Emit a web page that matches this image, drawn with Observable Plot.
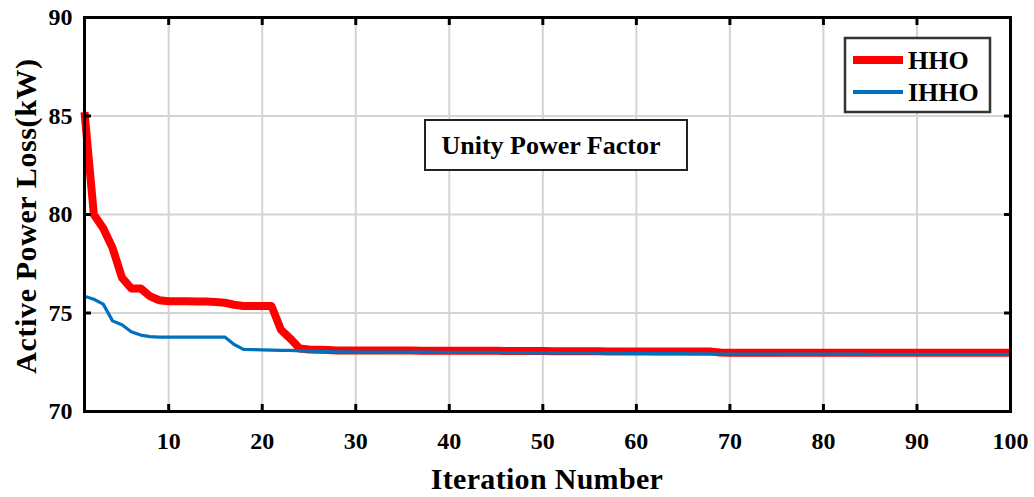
<!DOCTYPE html>
<html><head><meta charset="utf-8">
<script src="https://cdn.jsdelivr.net/npm/d3@7"></script>
<script src="https://cdn.jsdelivr.net/npm/@observablehq/plot@0.6"></script>
<style>body{margin:0;background:#fff;overflow:hidden} #chart svg{display:block}</style>
</head><body><div id="chart"></div>
<script>
// Iteration numbers (1..100)
const iterations = d3.range(1, 101);

// HHO active power loss (kW)
const hho = [
  85.2, 80.0, 79.3, 78.3, 76.8, 76.25, 76.25, 75.85, 75.65, 75.6,
  75.6, 75.6, 75.58, 75.58, 75.56, 75.52, 75.42, 75.36, 75.35, 75.35,
  75.35, 74.15, 73.7, 73.2, 73.15, 73.14, 73.12, 73.1, 73.1, 73.1,
  73.1, 73.1, 73.1, 73.1, 73.1, 73.1, 73.09, 73.09, 73.09, 73.09,
  73.09, 73.09, 73.08, 73.08, 73.08, 73.07, 73.07, 73.07, 73.07, 73.07,
  73.06, 73.06, 73.06, 73.06, 73.06, 73.06, 73.05, 73.05, 73.05, 73.05,
  73.05, 73.05, 73.05, 73.05, 73.05, 73.05, 73.05, 73.04, 72.99, 72.98,
  72.98, 72.98, 72.98, 72.98, 72.98, 72.98, 72.98, 72.98, 72.98, 72.98,
  72.98, 72.98, 72.98, 72.98, 72.98, 72.98, 72.98, 72.98, 72.98, 72.98,
  72.98, 72.98, 72.98, 72.98, 72.98, 72.98, 72.98, 72.98, 72.98, 72.98
];

// IHHO active power loss (kW)
const ihho = [
  75.85, 75.7, 75.45, 74.6, 74.4, 74.05, 73.88, 73.8, 73.78, 73.78,
  73.78, 73.78, 73.78, 73.78, 73.78, 73.78, 73.4, 73.15, 73.14, 73.13,
  73.12, 73.1, 73.1, 73.08, 73.06, 73.05, 73.04, 73.03, 73.03, 73.02,
  73.02, 73.02, 73.01, 73.01, 73.01, 73.01, 73.01, 73.01, 73.0, 73.0,
  73.0, 73.0, 73.0, 73.0, 73.0, 72.99, 72.99, 72.99, 72.98, 72.98,
  72.98, 72.97, 72.97, 72.97, 72.97, 72.96, 72.96, 72.96, 72.95, 72.95,
  72.95, 72.94, 72.94, 72.94, 72.94, 72.93, 72.93, 72.93, 72.92, 72.92,
  72.92, 72.92, 72.92, 72.92, 72.92, 72.91, 72.91, 72.91, 72.91, 72.91,
  72.91, 72.91, 72.91, 72.91, 72.9, 72.9, 72.9, 72.9, 72.9, 72.9,
  72.9, 72.9, 72.9, 72.9, 72.9, 72.9, 72.9, 72.9, 72.9, 72.9
];

const seriesNames = ["HHO", "IHHO"];
const seriesColors = ["#ff0000", "#0072bd"];
const seriesWidths = [8, 3.2];
const xTicks = [10, 20, 30, 40, 50, 60, 70, 80, 90, 100];
const yTicks = [70, 75, 80, 85, 90];
const xLabel = "Iteration Number";
const yLabel = "Active Power Loss(kW)";
const annotation = "Unity Power Factor";

const rows = [];
iterations.forEach((it, i) => {
  rows.push({it, v: hho[i], s: "HHO"});
  rows.push({it, v: ihho[i], s: "IHHO"});
});

const font = "'Liberation Serif', 'Times New Roman', Times, serif";
const gridStyle = {stroke: "#d4d4d4", strokeOpacity: 1, strokeWidth: 2};

const plot = Plot.plot({
  width: 1034, height: 497,
  marginLeft: 84, marginRight: 24, marginTop: 17, marginBottom: 86,
  style: {fontFamily: font, fontSize: "24px", fontWeight: "bold", background: "#fff", color: "#000"},
  x: {domain: [1, 100], label: null},
  y: {domain: [70, 90], label: null},
  marks: [
    Plot.gridX(xTicks.filter(d => d < 100), gridStyle),
    Plot.gridY(yTicks.filter(d => d > 70 && d < 90), gridStyle),
    Plot.line(rows.filter(d => d.s === "HHO"), {x: "it", y: "v", stroke: seriesColors[0], strokeWidth: seriesWidths[0], strokeLinejoin: "round", strokeLinecap: "butt"}),
    Plot.line(rows.filter(d => d.s === "IHHO"), {x: "it", y: "v", stroke: seriesColors[1], strokeWidth: seriesWidths[1], strokeLinejoin: "round"}),
    Plot.frame({stroke: "#000", strokeWidth: 3}),
    Plot.axisX(xTicks, {anchor: "bottom", tickSize: -7, tickPadding: 27, strokeWidth: 3, label: null}),
    Plot.axisX(xTicks, {anchor: "top", tickSize: -7, tickFormat: () => "", strokeWidth: 3, label: null}),
    Plot.axisY(yTicks, {anchor: "left", tickSize: -7, tickPadding: 19, strokeWidth: 3, label: null}),
    Plot.axisY(yTicks, {anchor: "right", tickSize: -7, tickFormat: () => "", strokeWidth: 3, label: null})
  ]
});
document.getElementById("chart").appendChild(plot);

const svg = d3.select(plot);
const xs = plot.scale("x");
const midX = (xs.range[0] + xs.range[1]) / 2;

// axis titles
svg.append("text").text(xLabel)
  .attr("x", midX).attr("y", 489)
  .attr("text-anchor", "middle")
  .style("font", `bold 30px ${font}`).style("letter-spacing", "0.3px").attr("fill", "#000");
svg.append("text").text(yLabel)
  .attr("transform", `translate(36,216) rotate(-90)`)
  .attr("text-anchor", "middle")
  .style("font", `bold 30px ${font}`).style("letter-spacing", "0.6px").attr("fill", "#000");

// annotation box
const ann = svg.append("g");
ann.append("rect")
  .attr("x", 425).attr("y", 120).attr("width", 262).attr("height", 50)
  .attr("fill", "#fff").attr("stroke", "#222").attr("stroke-width", 2);
ann.append("text").text(annotation)
  .attr("x", 551).attr("y", 154).attr("text-anchor", "middle")
  .style("font", `bold 26px ${font}`).attr("fill", "#000");

// legend
const leg = svg.append("g");
leg.append("rect").attr("x", 845).attr("y", 38).attr("width", 145).attr("height", 74)
  .attr("fill", "#fff").attr("stroke", "#333").attr("stroke-width", 2.5);
seriesNames.forEach((n, i) => {
  const y = 60 + i * 32;
  leg.append("line").attr("x1", 853).attr("x2", 903).attr("y1", y).attr("y2", y)
    .attr("stroke", seriesColors[i]).attr("stroke-width", i === 0 ? 8 : 4);
  leg.append("text").text(n).attr("x", 908).attr("y", y + 9)
    .attr("text-anchor", "start")
    .style("font", `bold 26px ${font}`).attr("fill", "#000");
});
</script>
</body></html>
